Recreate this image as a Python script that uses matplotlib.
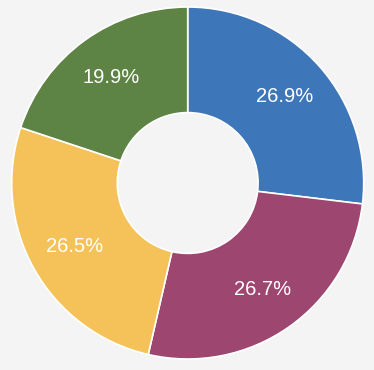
import matplotlib.pyplot as plt

# slice data (clockwise from 12 o'clock)
labels = ['26.9%', '26.7%', '26.5%', '19.9%']
values = [26.9, 26.7, 26.5, 19.9]
colors = ['#3e77b9', '#9d466f', '#f5c25a', '#5e8445']

plt.rcParams['font.family'] = ['Liberation Sans', 'DejaVu Sans']

W, H = 374, 370
fig = plt.figure(figsize=(W / 100, H / 100), dpi=100)
fig.patch.set_facecolor('#f4f4f4')

cx, cy, r = 187.7, 370 - 183, 176
ax = fig.add_axes([(cx - r) / W, (cy - r) / H, 2 * r / W, 2 * r / H])
ax.set_facecolor('#f4f4f4')

wedges, texts = ax.pie(values, colors=colors, startangle=90, counterclock=False,
                       radius=1.0, labels=labels, labeldistance=0.74,
                       wedgeprops=dict(width=0.6, edgecolor='white', linewidth=1.2),
                       textprops=dict(color='white', fontsize=14.5, ha='center', va='center'))
ax.set_xlim(-1, 1)
ax.set_ylim(-1, 1)
ax.set_aspect('equal')
ax.axis('off')

plt.savefig('out.png', dpi=100, facecolor=fig.get_facecolor())
